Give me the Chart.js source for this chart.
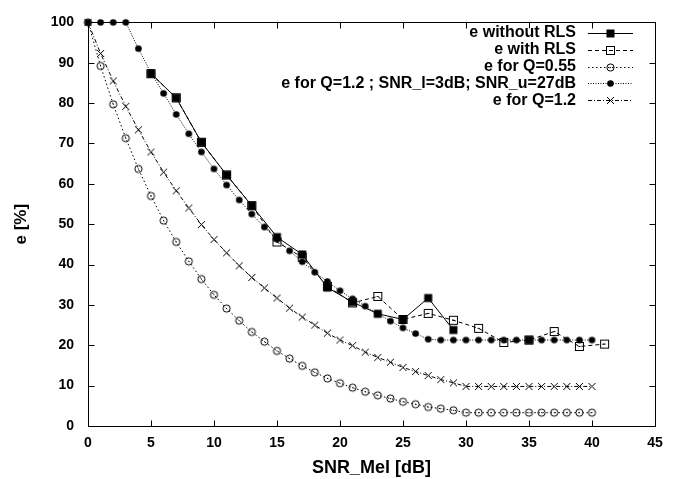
<!DOCTYPE html>
<html>
<head>
<meta charset="utf-8">
<script src="https://cdn.jsdelivr.net/npm/chart.js@4/dist/chart.umd.min.js"></script>
<style>
  html, body { margin: 0; padding: 0; background: #fff; }
  #c { display: block; }
</style>
</head>
<body>
<canvas id="c" width="678" height="479"></canvas>
<script>
// ---- data ----
const xTicks = [0, 5, 10, 15, 20, 25, 30, 35, 40, 45];
const yTicks = [0, 10, 20, 30, 40, 50, 60, 70, 80, 90, 100];

const seriesNames = [
  'e without RLS',
  'e with RLS',
  'e for Q=0.55',
  'e for Q=1.2 ; SNR_l=3dB; SNR_u=27dB',
  'e for Q=1.2'
];

const snrWithoutRLS = [5, 7, 9, 11, 13, 15, 17, 19, 21, 23, 25, 27, 29, 31, 33, 35];
const eWithoutRLS   = [87.3, 81.3, 70.3, 62.2, 54.6, 46.8, 42.5, 34.3, 30.7, 27.8, 26.4, 31.7, 23.8, null, null, 21.3];

const snrWithRLS = [5, 7, 9, 11, 13, 15, 17, 19, 21, 23, 25, 27, 29, 31, 33, 35, 37, 39, 41];
const eWithRLS   = [87.3, 81.3, 70.3, 62.2, 54.6, 45.6, 41.8, 34.6, 30.5, 32.1, 26.4, 27.9, 26.2, 24.2, 20.7, 21.3, 23.4, 19.7, 20.3];

const snrFull = [0, 1, 2, 3, 4, 5, 6, 7, 8, 9, 10, 11, 12, 13, 14, 15, 16, 17, 18, 19, 20,
                 21, 22, 23, 24, 25, 26, 27, 28, 29, 30, 31, 32, 33, 34, 35, 36, 37, 38, 39, 40];
const eQ055 = [100, 89.2, 79.7, 71.3, 63.7, 57.0, 50.9, 45.6, 40.8, 36.4, 32.5, 29.1, 26.1, 23.3, 20.9,
               18.6, 16.7, 14.9, 13.3, 11.8, 10.6, 9.5, 8.5, 7.6, 6.8, 6.0, 5.4, 4.7, 4.3, 3.9,
               3.3, 3.3, 3.3, 3.3, 3.3, 3.3, 3.3, 3.3, 3.3, 3.3, 3.3];
const eQ12Limited = [100, 100, 100, 100, 93.5, 87.5, 82.4, 77.2, 72.4, 67.9, 63.7, 59.7, 56.0, 52.5, 49.3,
                     46.3, 43.4, 40.7, 38.1, 35.8, 33.5, 31.5, 29.7, 27.8, 26.0, 24.3, 22.9, 21.5, 21.3, 21.3,
                     21.3, 21.3, 21.3, 21.3, 21.3, 21.3, 21.3, 21.3, 21.3, 21.3, 21.3];
const eQ12 = [100, 92.3, 85.5, 79.2, 73.4, 67.9, 62.9, 58.3, 54.0, 49.9, 46.2, 42.9, 39.7, 36.8, 34.2,
              31.7, 29.2, 27.0, 25.0, 23.0, 21.3, 19.9, 18.3, 17.0, 15.8, 14.5, 13.5, 12.5, 11.5, 10.7,
              9.8, 9.8, 9.8, 9.8, 9.8, 9.8, 9.8, 9.8, 9.8, 9.8, 9.8];

const xTitle = 'SNR_Mel [dB]';
const yTitle = 'e [%]';

// ---- marker images ----
function marker(draw) {
  const s = 11;
  const c = document.createElement('canvas');
  c.width = s; c.height = s;
  const g = c.getContext('2d');
  g.fillStyle = '#000'; g.strokeStyle = '#000'; g.lineWidth = 1;
  draw(g, s / 2);
  return c;
}
const mFilledSquare = marker((g, m) => { g.fillRect(m - 4, m - 4, 8, 8); });
const mOpenSquare = marker((g, m) => { g.strokeRect(1.5, 1.5, 8, 8); g.fillRect(4.5, 5, 2, 1); });
const mOpenCircle = marker((g, m) => { g.beginPath(); g.arc(m, m, 3.6, 0, Math.PI * 2); g.stroke(); g.fillRect(5, 5, 1, 1); });
const mFilledCircle = marker((g, m) => { g.beginPath(); g.arc(m, m, 3.3, 0, Math.PI * 2); g.fill(); });
const mCross = marker((g, m) => {
  g.beginPath(); g.moveTo(2, 2); g.lineTo(9, 9); g.moveTo(9, 2); g.lineTo(2, 9); g.stroke();
});

function pts(xs, ys) { return xs.map((x, i) => ({ x: x, y: ys[i] })); }

const FONT = "'Liberation Sans', Arial, Helvetica, sans-serif";

const datasets = [
  { label: seriesNames[0], data: pts(snrWithoutRLS, eWithoutRLS), borderDash: [], pointStyle: mFilledSquare },
  { label: seriesNames[1], data: pts(snrWithRLS, eWithRLS), borderDash: [4, 3], pointStyle: mOpenSquare },
  { label: seriesNames[2], data: pts(snrFull, eQ055), borderDash: [1.5, 2.5], pointStyle: mOpenCircle },
  { label: seriesNames[3], data: pts(snrFull, eQ12Limited), borderDash: [1, 1.5], pointStyle: mFilledCircle },
  { label: seriesNames[4], data: pts(snrFull, eQ12), borderDash: [4, 2, 1, 2], pointStyle: mCross }
].map(d => Object.assign({
  borderColor: '#000', backgroundColor: '#000', borderWidth: 1,
  pointRadius: 4, spanGaps: false, tension: 0, clip: false
}, d));

// border + inward ticks
const frame = {
  id: 'frame',
  beforeDatasetsDraw(chart) {
    const { ctx, chartArea: a, scales } = chart;
    ctx.save();
    ctx.strokeStyle = '#000';
    ctx.lineWidth = 1;
    ctx.beginPath();
    const L = Math.round(a.left) + 0.5, R = Math.round(a.right) + 0.5;
    const T = Math.round(a.top) + 0.5, B = Math.round(a.bottom) + 0.5;
    ctx.rect(L, T, R - L, B - T);
    const tl = 6;
    xTicks.forEach(v => {
      const x = Math.round(scales.x.getPixelForValue(v)) + 0.5;
      ctx.moveTo(x, B); ctx.lineTo(x, B - tl);
      ctx.moveTo(x, T); ctx.lineTo(x, T + tl);
    });
    yTicks.forEach(v => {
      const y = Math.round(scales.y.getPixelForValue(v)) + 0.5;
      ctx.moveTo(L, y); ctx.lineTo(L + tl, y);
      ctx.moveTo(R, y); ctx.lineTo(R - tl, y);
    });
    ctx.stroke();
    ctx.restore();
  }
};

// gnuplot-style key: right-aligned text followed by line sample
const key = {
  id: 'key',
  afterDatasetsDraw(chart) {
    const { ctx } = chart;
    ctx.save();
    ctx.font = 'bold 16px ' + FONT;
    ctx.textAlign = 'right';
    ctx.textBaseline = 'middle';
    ctx.fillStyle = '#000';
    const textRight = 576, x0 = 588, x1 = 633, y0 = 33, dy = 16.8;
    chart.data.datasets.forEach((ds, i) => {
      const y = y0 + i * dy;
      ctx.fillText(ds.label, textRight, y);
      ctx.beginPath();
      ctx.setLineDash(ds.borderDash || []);
      ctx.lineWidth = 1;
      ctx.strokeStyle = '#000';
      ctx.moveTo(x0, Math.round(y) + 0.5);
      ctx.lineTo(x1, Math.round(y) + 0.5);
      ctx.stroke();
      ctx.setLineDash([]);
      const img = ds.pointStyle;
      ctx.drawImage(img, (x0 + x1) / 2 - img.width / 2, Math.round(y) + 0.5 - img.height / 2);
    });
    ctx.restore();
  }
};

new Chart(document.getElementById('c'), {
  type: 'line',
  data: { datasets: datasets },
  options: {
    responsive: false,
    animation: false,
    devicePixelRatio: 1,
    layout: { padding: { left: 10, right: 23, top: 18, bottom: 0 } },
    plugins: { legend: { display: false }, tooltip: { enabled: false } },
    scales: {
      x: {
        type: 'linear', min: 0, max: 45,
        afterBuildTicks: s => { s.ticks = xTicks.map(v => ({ value: v })); },
        afterFit: s => { s.height = 53; },
        grid: { display: false, drawTicks: false },
        border: { display: false },
        ticks: { color: '#000', padding: 9, font: { family: FONT, size: 14, weight: 'bold' }, maxRotation: 0 },
        title: { display: true, text: xTitle, color: '#000', padding: { top: 0, bottom: 2 },
                 font: { family: FONT, size: 18, weight: 'bold', lineHeight: 1 } }
      },
      y: {
        type: 'linear', min: 0, max: 100,
        afterBuildTicks: s => { s.ticks = yTicks.map(v => ({ value: v })); },
        afterFit: s => { s.width = 78; },
        grid: { display: false, drawTicks: false },
        border: { display: false },
        ticks: { color: '#000', padding: 14, font: { family: FONT, size: 14, weight: 'bold' } },
        title: { display: true, text: yTitle, color: '#000', padding: { top: 3, bottom: 0 },
                 font: { family: FONT, size: 17, weight: 'bold', lineHeight: 1 } }
      }
    }
  },
  plugins: [frame, key]
});
</script>
</body>
</html>
